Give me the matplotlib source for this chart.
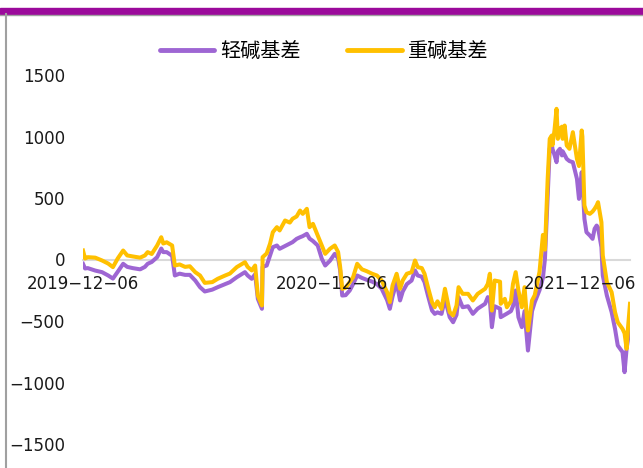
import matplotlib
matplotlib.use("Agg")
import matplotlib.pyplot as plt
from matplotlib.patches import Rectangle
from matplotlib.lines import Line2D
import pandas as pd

dates = [
    "2019-12-06", "2019-12-09", "2019-12-13", "2019-12-24", "2020-01-03", "2020-01-12",
    "2020-01-19", "2020-01-26", "2020-02-03", "2020-02-09", "2020-02-17", "2020-02-28",
    "2020-03-06", "2020-03-10", "2020-03-16", "2020-03-24", "2020-03-30", "2020-04-02",
    "2020-04-07", "2020-04-15", "2020-04-16", "2020-04-19", "2020-04-26", "2020-05-04",
    "2020-05-11", "2020-05-19", "2020-05-26", "2020-06-02", "2020-06-13", "2020-06-21",
    "2020-07-02", "2020-07-09", "2020-07-19", "2020-07-31", "2020-08-04", "2020-08-10",
    "2020-08-15", "2020-08-19", "2020-08-25", "2020-08-26", "2020-09-01", "2020-09-06",
    "2020-09-10", "2020-09-16", "2020-09-20", "2020-09-28", "2020-10-05", "2020-10-09",
    "2020-10-15", "2020-10-20", "2020-10-24", "2020-10-30", "2020-11-03", "2020-11-08",
    "2020-11-15", "2020-11-21", "2020-11-26", "2020-12-03", "2020-12-10", "2020-12-15",
    "2020-12-18", "2020-12-21", "2020-12-26", "2021-01-01", "2021-01-06", "2021-01-12",
    "2021-01-19", "2021-01-26", "2021-02-03", "2021-02-10", "2021-02-17", "2021-02-25",
    "2021-03-01", "2021-03-05", "2021-03-11", "2021-03-16", "2021-03-20", "2021-03-26",
    "2021-04-02", "2021-04-07", "2021-04-11", "2021-04-17", "2021-04-21", "2021-04-26",
    "2021-05-02", "2021-05-06", "2021-05-10", "2021-05-16", "2021-05-21", "2021-05-28",
    "2021-06-02", "2021-06-07", "2021-06-10", "2021-06-16", "2021-06-24", "2021-07-01",
    "2021-07-08", "2021-07-19", "2021-07-23", "2021-07-26", "2021-07-29", "2021-08-02",
    "2021-08-10", "2021-08-11", "2021-08-17", "2021-08-20", "2021-08-26", "2021-08-29",
    "2021-09-02", "2021-09-06", "2021-09-11", "2021-09-15", "2021-09-20", "2021-09-26",
    "2021-09-30", "2021-10-07", "2021-10-12", "2021-10-15", "2021-10-19", "2021-10-22",
    "2021-10-25", "2021-10-26", "2021-10-29", "2021-11-01", "2021-11-03", "2021-11-06",
    "2021-11-09", "2021-11-10", "2021-11-13", "2021-11-16", "2021-11-20", "2021-11-25",
    "2021-12-01", "2021-12-04", "2021-12-08", "2021-12-09", "2021-12-12", "2021-12-15",
    "2021-12-20", "2021-12-24", "2021-12-27", "2021-12-30", "2022-01-01", "2022-01-03",
    "2022-01-06", "2022-01-08", "2022-01-14", "2022-01-21", "2022-01-26", "2022-01-30",
    "2022-02-06", "2022-02-09", "2022-02-12", "2022-02-14", "2022-02-17",
]

heavy_basis = [
    73, 8, 19, 15, -8, -33,
    -62, 8, 73, 33, 25, 15,
    33, 60, 45, 114, 181, 130,
    140, 114, 73, -49, -40, -60,
    -55, -103, -130, -190, -184, -157,
    -130, -114, -62, -22, -60, -89,
    -49, -293, -374, 19, 49, 130,
    222, 263, 236, 317, 300, 331,
    350, 398, 371, 412, 263, 290,
    195, 114, 46, 87, 114, 60,
    -62, -238, -230, -184, -144, -35,
    -80, -95, -116, -130, -171, -266,
    -347, -211, -116, -238, -170, -116,
    -103, -8, -62, -70, -116, -225,
    -347, -388, -340, -401, -238, -428,
    -455, -374, -225, -279, -279, -333,
    -280, -238, -198, -116, -415, -171,
    -180, -360, -320, -388, -340, -198,
    -103, -252, -388, -225, -577, -333,
    -290, -100, 200, 80, 656, 981,
    1008, 930, 1050, 1225, 981, 1062,
    1080, 981, 1089, 927, 900, 1035,
    818, 760, 1049, 1000, 439, 385,
    371, 390, 412, 440, 466, 400,
    303, 33, -184, -266, -428, -510,
    -564, -600, -726, -560, -360,
]

light_basis = [
    -35, -73, -70, -90, -103, -130,
    -155, -100, -35, -60, -70, -80,
    -60, -35, -20, 19, 89, 60,
    60, 30, -10, -130, -115, -125,
    -125, -171, -225, -260, -245, -225,
    -200, -184, -144, -103, -130, -157,
    -120, -320, -401, -60, -49, 33,
    100, 114, 87, 110, 130, 141,
    168, 181, 190, 209, 170, 150,
    114, 6, -49, -10, 46, 10,
    -89, -293, -290, -252, -200, -130,
    -150, -165, -180, -200, -238, -330,
    -401, -300, -184, -333, -260, -200,
    -171, -89, -130, -140, -184, -293,
    -415, -442, -430, -442, -320, -469,
    -510, -450, -306, -388, -380, -442,
    -400, -360, -306, -330, -550, -380,
    -400, -469, -450, -440, -420, -380,
    -252, -469, -550, -420, -740, -420,
    -347, -250, -150, 6, 520, 900,
    954, 900, 850, 791, 880, 900,
    846, 880, 850, 818, 800, 791,
    656, 493, 710, 650, 331, 222,
    195, 168, 250, 276, 260, 195,
    100, -130, -293, -428, -564, -699,
    -753, -916, -726, -650, -537,
]

series_names = ["轻碱基差", "重碱基差"]
x_tick_labels = ["2019−12−06", "2020−12−06", "2021−12−06"]
x_tick_dates = ["2019-12-06", "2020-12-06", "2021-12-06"]
y_ticks = [-1500, -1000, -500, 0, 500, 1000, 1500]

x = pd.to_datetime(dates)
W, H = 643, 468
fig = plt.figure(figsize=(W / 100, H / 100), dpi=100)
ax = fig.add_axes([83 / W, 24 / H, (630 - 83) / W, (444 - 75) / H])

l1, = ax.plot(x, light_basis, color="#9E66D3", lw=2.9, solid_joinstyle="round", zorder=2.1)
l2, = ax.plot(x, heavy_basis, color="#FFC000", lw=2.9, solid_joinstyle="round", zorder=2.2)

ax.set_ylim(-1500, 1500)
ax.set_xlim(x[0], x[-1])
ax.set_yticks(y_ticks)
ax.set_yticklabels([str(v).replace("-", "−") for v in y_ticks])
ax.set_xticks(pd.to_datetime(x_tick_dates))
ax.set_xticklabels(x_tick_labels)

for s in ["top", "right", "left"]:
    ax.spines[s].set_visible(False)
ax.spines["bottom"].set_position(("data", 0))
ax.spines["bottom"].set_color("#D9D9D9")
ax.spines["bottom"].set_linewidth(1.5)
ax.spines["bottom"].set_zorder(1)
ax.xaxis.set_zorder(3)
ax.tick_params(axis="x", length=0, pad=11, labelsize=12, colors="#1a1a1a")
ax.tick_params(axis="y", length=0, pad=13, labelsize=12, colors="#1a1a1a")
for t in ax.get_xticklabels() + ax.get_yticklabels():
    t.set_family(["DejaVu Sans"])

leg = fig.legend([l1, l2], series_names, loc="center", ncol=2,
                 bbox_to_anchor=(324 / W, 1 - 52 / H), frameon=False,
                 prop={"family": ["Noto Sans CJK SC", "DejaVu Sans"], "size": 14.5},
                 handlelength=2.7, handletextpad=0.3, columnspacing=2.3)
for h in leg.get_lines():
    h.set_linewidth(3.5)
    h.set_solid_capstyle("round")

# decorative frame
fig.add_artist(Rectangle((0, 1 - 14 / H), 1, 6 / H, transform=fig.transFigure,
                         color="#9B0A9B", zorder=10))
fig.add_artist(Line2D([0, 1], [1 - 14.5 / H, 1 - 14.5 / H], transform=fig.transFigure,
                      color="#A0A0A0", lw=1.0, zorder=10))
fig.add_artist(Line2D([5.5 / W, 5.5 / W], [0, 1 - 14 / H], transform=fig.transFigure,
                      color="#A0A0A0", lw=1.5, zorder=10))

fig.savefig("out.png", dpi=100)
